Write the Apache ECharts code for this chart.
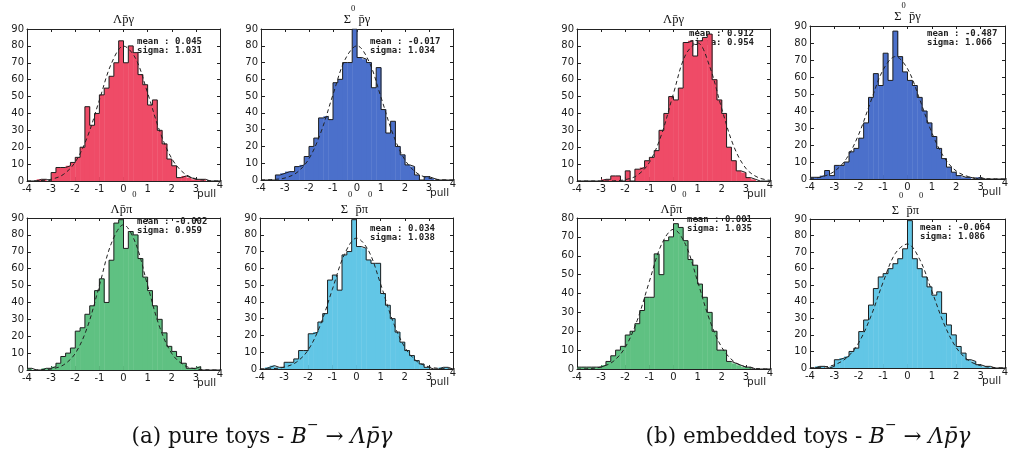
<!DOCTYPE html>
<html>
<head>
<meta charset="utf-8">
<script src="https://cdn.jsdelivr.net/npm/echarts@6/dist/echarts.min.js"></script>
<style>
  html, body { margin: 0; padding: 0; background: #ffffff; }
  #chart { width: 1009px; height: 457px; }
</style>
</head>
<body>
<div id="chart"></div>
<script>
// Pull distributions of toy fits: counts per 0.2-wide bin, left edges below.
const binStarts = [-4.0, -3.8, -3.6, -3.4, -3.2, -3.0, -2.8, -2.6, -2.4, -2.2,
                   -2.0, -1.8, -1.6, -1.4, -1.2, -1.0, -0.8, -0.6, -0.4, -0.2,
                    0.0,  0.2,  0.4,  0.6,  0.8,  1.0,  1.2,  1.4,  1.6,  1.8,
                    2.0,  2.2,  2.4,  2.6,  2.8,  3.0,  3.2,  3.4,  3.6,  3.8];
const binWidth = 0.2;

// (a) pure toys
const pureLambdaGamma = [0,0,1,1,0, 5,8,8,9,11, 14,20,44,33,40, 51,55,62,70,83,
                         70,80,76,63,57, 45,48,30,22,13, 9,2,3,2,1, 1,1,0,0,0];
const pureSigmaGamma  = [0,0,0,3,4, 5,5,8,9,14, 20,25,37,38,36, 58,60,70,70,90,
                         73,72,70,55,67, 42,28,35,20,15, 9,8,3,0,2, 1,0,0,0,0];
const pureLambdaPi0   = [1,0,0,1,1, 2,4,8,10,13, 23,25,33,38,47, 54,40,65,87,89,
                         72,82,80,66,55, 47,38,30,22,14, 11,8,4,1,1, 2,0,0,0,0];
const pureSigmaPi0    = [0,1,2,1,1, 4,4,6,11,11, 21,22,28,33,53, 56,47,68,70,89,
                         73,72,65,63,63, 45,38,30,22,16, 11,8,5,3,1, 0,0,1,1,0];
// (b) embedded toys
const embLambdaGamma  = [0,0,0,0,0, 1,1,3,3,0, 6,0,7,8,12, 14,18,30,40,50,
                         48,55,82,83,74, 83,85,87,60,48, 40,20,12,6,5, 2,1,0,0,0];
const embSigmaGamma   = [1,1,2,5,2, 8,8,10,16,18, 24,33,48,62,55, 74,58,87,72,63,
                         58,55,48,40,33, 25,18,12,7,4, 2,1,1,0,1, 0,0,0,0,0];
const embLambdaPi0    = [1,1,1,1,1, 2,4,7,10,12, 18,20,24,31,38, 38,61,50,68,70,
                         77,75,68,58,55, 45,38,30,20,10, 10,4,3,2,1, 1,0,0,0,0];
const embSigmaPi0     = [0,1,1,0,1, 5,6,7,10,12, 22,29,38,48,55, 57,60,63,66,72,
                         89,66,60,55,49, 44,46,33,26,20, 13,9,5,4,2, 1,1,0,0,0];

// Gaussian fit curves, sampled every 0.5 in pull
const fitX = [-4, -3.5, -3, -2.5, -2, -1.5, -1, -0.5, 0, 0.5, 1, 1.5, 2, 2.5, 3, 3.5, 4];
const fitPureLambdaGamma = [0,0.2,1.0,3.8,11.2,26.0,47.9,69.6,79.9,72.6,52.1,29.6,13.3,4.7,1.3,0.3,0];
const fitPureSigmaGamma  = [0,0.3,1.2,4.5,12.7,28.6,50.9,71.7,80,70.6,49.3,27.3,11.9,4.1,1.1,0.2,0];
const fitPureLambdaPi0   = [0,0.1,0.6,2.9,9.8,25.3,50.0,75.1,86,75.1,50.0,25.3,9.8,2.9,0.6,0.1,0];
const fitPureSigmaPi0    = [0,0.2,1.1,4.0,11.4,26.2,47.5,68.3,78,70.5,50.6,28.8,13.0,4.6,1.3,0.3,0];
const fitEmbLambdaGamma  = [0,0,0,0.1,0.8,3.4,11,27.4,51.9,74.7,81.7,67.8,42.8,20.5,7.5,2.1,0.4];
const fitEmbSigmaGamma   = [0.3,1.3,4.5,12.1,26.3,45.9,64.2,72,64.9,46.9,27.2,12.7,4.7,1.4,0.3,0.1,0];
const fitEmbLambdaPi0    = [0,0.2,1.1,4.0,11.5,25.9,46.4,65.9,74,65.9,46.4,25.9,11.5,4.0,1.1,0.2,0];
const fitEmbSigmaPi0     = [0.1,0.5,1.9,6.1,15.3,31.3,51.8,69.2,74.9,65.6,46.4,26.6,12.3,4.6,1.4,0.3,0.1];

// Panel titles (rich text: m = main, s = raised superscript)
const panelTitles = [
  '{m|Λp̄γ}', '{m|Σ}{s|0}{m| p̄γ}', '{m|Λp̄π}{s|0}', '{m|Σ}{s|0}{m| p̄π}{s|0}',
  '{m|Λp̄γ}', '{m|Σ}{s|0}{m| p̄γ}', '{m|Λp̄π}{s|0}', '{m|Σ}{s|0}{m| p̄π}{s|0}'
];
const meanLabels  = ['0.045', '-0.017', '-0.002', '0.034', '0.912', '-0.487', '0.001', '-0.064'];
const sigmaLabels = ['1.031', '1.034', '0.959', '1.038', '0.954', '1.066', '1.035', '1.086'];
const yMaxes = [90, 90, 90, 90, 90, 90, 80, 90];
const captions = [
  '{t|(a) pure toys - }{i|B}{u|−}{t| → }{i|Λp̄γ}',
  '{t|(b) embedded toys - }{i|B}{u|−}{t| → }{i|Λp̄γ}'
];

const countsList = [pureLambdaGamma, pureSigmaGamma, pureLambdaPi0, pureSigmaPi0,
                    embLambdaGamma, embSigmaGamma, embLambdaPi0, embSigmaPi0];
const fitsList = [fitPureLambdaGamma, fitPureSigmaGamma, fitPureLambdaPi0, fitPureSigmaPi0,
                  fitEmbLambdaGamma, fitEmbSigmaGamma, fitEmbLambdaPi0, fitEmbSigmaPi0];

// Layout and styling
const fillColors = ['#ef4b67', '#4b70cb', '#5fc182', '#62c6e6',
                    '#ef4b67', '#4b70cb', '#5fc182', '#62c6e6'];
const panelBoxes = [
  { left: 27,  top: 29,  width: 193, height: 152 },
  { left: 261, top: 29,  width: 192, height: 151 },
  { left: 27,  top: 218, width: 193, height: 152 },
  { left: 260, top: 218, width: 193, height: 151 },
  { left: 577, top: 29,  width: 193, height: 152 },
  { left: 810, top: 26,  width: 195, height: 153 },
  { left: 577, top: 218, width: 193, height: 151 },
  { left: 810, top: 219, width: 195, height: 149 }
];
const statsPos = [
  { left: 137, top: 37 }, { left: 370, top: 37 }, { left: 137, top: 217 }, { left: 370, top: 224 },
  { left: 689, top: 29 }, { left: 927, top: 29 }, { left: 687, top: 215 }, { left: 920, top: 223 }
];

const axisColor = '#222';
const tickFont = { fontFamily: 'DejaVu Sans', fontSize: 10, color: '#1b1b1b' };

const grids = [], xAxes = [], yAxes = [], series = [], titles = [];

panelBoxes.forEach((box, i) => {
  grids.push({ left: box.left, top: box.top, width: box.width, height: box.height,
               containLabel: false, outerBoundsMode: 'none' });

  // bottom x axis with labels (last label lifted above the axis title), plus a top axis for the frame
  xAxes.push({
    gridIndex: i, type: 'value', min: -4, max: 4, interval: 1,
    axisLine: { show: true, onZero: false, lineStyle: { color: axisColor, width: 1 } },
    axisTick: { show: true, inside: true, length: 4, lineStyle: { color: axisColor } },
    axisLabel: Object.assign({
      margin: 3,
      formatter: v => (v === 4 ? '{r|4}' : String(v)),
      rich: { r: { fontFamily: 'DejaVu Sans', fontSize: 10, color: '#1b1b1b', padding: [-4, 0, 0, 0] } }
    }, tickFont),
    splitLine: { show: false },
    name: 'pull', nameLocation: 'end', nameGap: -23, nameMoveOverlap: false,
    nameTextStyle: { fontFamily: 'DejaVu Sans', fontSize: 10.5, color: '#1b1b1b',
                     align: 'left', verticalAlign: 'top', padding: [8, 0, 0, 0] }
  });
  xAxes.push({
    gridIndex: i, type: 'value', position: 'top', min: -4, max: 4, interval: 1,
    axisLine: { show: true, onZero: false, lineStyle: { color: axisColor, width: 1 } },
    axisTick: { show: true, inside: true, length: 3, lineStyle: { color: axisColor } },
    axisLabel: { show: false }, splitLine: { show: false }
  });
  yAxes.push({
    gridIndex: i, type: 'value', min: 0, max: yMaxes[i], interval: 10,
    axisLine: { show: true, onZero: false, lineStyle: { color: axisColor, width: 1 } },
    axisTick: { show: true, inside: true, length: 4, lineStyle: { color: axisColor } },
    axisLabel: Object.assign({ margin: 3 }, tickFont),
    splitLine: { show: false }
  });
  yAxes.push({
    gridIndex: i, type: 'value', position: 'right', min: 0, max: yMaxes[i], interval: 10,
    axisLine: { show: true, onZero: false, lineStyle: { color: axisColor, width: 1 } },
    axisTick: { show: true, inside: true, length: 3, lineStyle: { color: axisColor } },
    axisLabel: { show: false }, splitLine: { show: false }
  });

  const xi = 2 * i, yi = 2 * i;
  const counts = countsList[i];
  const color = fillColors[i];

  // filled histogram bins
  series.push({
    type: 'custom', xAxisIndex: xi, yAxisIndex: yi, z: 2, clip: true, silent: true,
    data: binStarts.map((x, k) => [x, x + binWidth, counts[k]]),
    encode: { x: [0, 1], y: 2 },
    renderItem: (params, api) => {
      const topLeft = api.coord([api.value(0), api.value(2)]);
      const bottomRight = api.coord([api.value(1), 0]);
      return {
        type: 'rect',
        shape: { x: topLeft[0], y: topLeft[1],
                 width: bottomRight[0] - topLeft[0] + 0.4,
                 height: bottomRight[1] - topLeft[1] },
        style: { fill: color }
      };
    }
  });

  // histogram outline
  series.push({
    type: 'line', xAxisIndex: xi, yAxisIndex: yi, z: 3, step: 'end', silent: true,
    symbol: 'none', clip: true,
    data: binStarts.map((x, k) => [x, counts[k]]).concat([[4, 0]]),
    lineStyle: { color: '#1e1e1e', width: 1 }
  });

  // gaussian fit
  series.push({
    type: 'line', xAxisIndex: xi, yAxisIndex: yi, z: 4, smooth: 0.35, silent: true,
    symbol: 'none', clip: true,
    data: fitX.map((x, k) => [x, fitsList[i][k]]),
    lineStyle: { color: '#222', width: 1, type: [4, 3] }
  });

  // panel title; the superscript sits at the top of a taller line box
  const isBottomRow = box.top > 150;
  const hasSup = panelTitles[i].indexOf('{s|') >= 0;
  const supLine = isBottomRow ? 26 : 22;
  const centerY = isBottomRow ? box.top - 9 : box.top - 10;
  titles.push({
    text: panelTitles[i],
    left: box.left + box.width / 2, top: hasSup ? centerY - (supLine - 7) : centerY - 7,
    textAlign: 'center', padding: 0, z: 6,
    textStyle: {
      fontWeight: 'normal',
      rich: {
        m: { fontFamily: 'Liberation Serif', fontSize: 12.5, fontWeight: 'normal', color: '#111',
             lineHeight: 14, verticalAlign: 'bottom' },
        s: { fontFamily: 'Liberation Serif', fontSize: 8.5, fontWeight: 'normal', color: '#111',
             lineHeight: supLine, verticalAlign: 'top' }
      }
    }
  });

  // fit statistics, drawn beneath the histogram bars
  titles.push({
    text: 'mean : ' + meanLabels[i] + '\nsigma: ' + sigmaLabels[i],
    left: statsPos[i].left, top: statsPos[i].top, padding: 0, z: 1,
    textStyle: { fontFamily: 'DejaVu Sans Mono', fontSize: 9, lineHeight: 9,
                 fontWeight: 'bold', color: '#222' }
  });
});

// sub-figure captions
const captionRich = {
  t: { fontFamily: 'DejaVu Serif', fontSize: 21.5, fontWeight: 'normal', color: '#111',
       lineHeight: 24, verticalAlign: 'bottom' },
  i: { fontFamily: 'DejaVu Serif', fontSize: 21.5, fontStyle: 'italic', fontWeight: 'normal', color: '#111',
       lineHeight: 24, verticalAlign: 'bottom' },
  u: { fontFamily: 'DejaVu Serif', fontSize: 14, fontWeight: 'normal', color: '#111',
       lineHeight: 30, verticalAlign: 'top' }
};
titles.push({ text: captions[0], left: 262, top: 418, textAlign: 'center', padding: 0,
              textStyle: { fontWeight: 'normal', rich: captionRich } });
titles.push({ text: captions[1], left: 808, top: 418, textAlign: 'center', padding: 0,
              textStyle: { fontWeight: 'normal', rich: captionRich } });

const chart = echarts.init(document.getElementById('chart'), null, { renderer: 'canvas' });
chart.setOption({
  backgroundColor: '#ffffff',
  animation: false,
  title: titles,
  grid: grids,
  xAxis: xAxes,
  yAxis: yAxes,
  series: series
});
</script>
</body>
</html>
